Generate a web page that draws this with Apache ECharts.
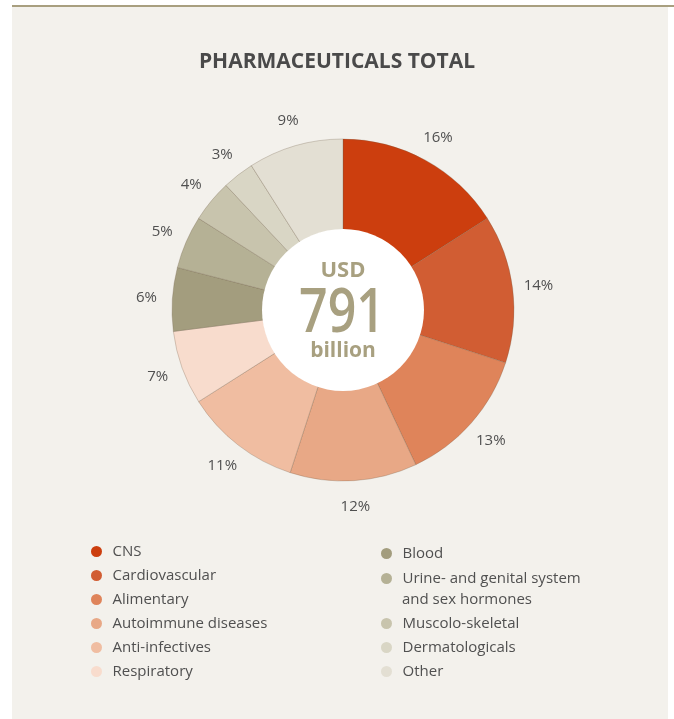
<!DOCTYPE html>
<html>
<head>
<meta charset="utf-8">
<script src="https://cdn.jsdelivr.net/npm/echarts@6/dist/echarts.min.js"></script>
<style>
html,body{margin:0;padding:0;background:#fff;}
#chart{width:674px;height:719px;}
</style>
</head>
<body>
<div id="chart"></div>
<script>
// Data
const categories = ['CNS','Cardiovascular','Alimentary','Autoimmune diseases','Anti-infectives','Respiratory','Blood','Urine- and genital system','Muscolo-skeletal','Dermatologicals','Other'];
const shares = [16,14,13,12,11,7,6,5,4,3,9];
const colors = ['#cc3e0e','#d15d33','#df845a','#e8a886','#f0bda1','#f8dccd','#a39d7e','#b5b195','#c8c4ad','#d9d6c5','#e3dfd3'];
const titleText = 'PHARMACEUTICALS TOTAL';
const totalTop = 'USD', totalValue = '791', totalUnit = 'billion';
const legendLeft = categories.slice(0,6);
const legendRightA = categories.slice(6,8);
const legendRightB = categories.slice(8);
const extraLine = 'and sex hormones';

const FONT = '"Open Sans", "Noto Sans", sans-serif';
const TXT = '#505050';
const GOLD = '#a8a080';

const data = categories.map((c,i)=>({name:c, value:shares[i], itemStyle:{color:colors[i]}}));

const legendCommon = {
  orient:'vertical', icon:'circle', itemWidth:22, itemHeight:11, selectedMode:false, padding:0,
  itemStyle:{borderWidth:0},
  textStyle:{fontFamily:FONT, fontSize:15, color:TXT, lineHeight:21, padding:0}
};

const chart = echarts.init(document.getElementById('chart'));
chart.setOption({
  backgroundColor:'#ffffff',
  animation:false,
  title:{text:titleText, left:'center', top:47, textStyle:{fontFamily:FONT, fontSize:21, fontWeight:'bold', color:'#4a4a4a'}},
  graphic:[
    {type:'rect', z:-10, silent:true, shape:{x:12,y:7,width:656,height:712}, style:{fill:'#f3f1ec'}},
    {type:'rect', z:-10, silent:true, shape:{x:12,y:5,width:662,height:2}, style:{fill:'#a89f7f'}},
    {type:'circle', z:5, silent:true, shape:{cx:343, cy:310, r:81}, style:{fill:'#ffffff'}},
    {type:'text', z:6, silent:true, x:343, y:271, style:{text:totalTop, fontFamily:FONT, fontSize:22, fontWeight:'bold', fill:GOLD, align:'center', verticalAlign:'middle'}},
    {type:'text', z:6, silent:true, x:342, y:315, scaleX:0.82, style:{text:totalValue, fontFamily:FONT, fontSize:61, fontWeight:600, fill:GOLD, align:'center', verticalAlign:'middle'}},
    {type:'text', z:6, silent:true, x:343, y:351, style:{text:totalUnit, fontFamily:FONT, fontSize:21, fontWeight:'bold', fill:GOLD, align:'center', verticalAlign:'middle'}},
    {type:'text', silent:true, x:402, y:600, style:{text:extraLine, fontFamily:FONT, fontSize:15, fill:TXT, align:'left', verticalAlign:'middle'}}
  ],
  legend:[
    Object.assign({}, legendCommon, {data:legendLeft, left:85, top:541, itemGap:3}),
    Object.assign({}, legendCommon, {data:legendRightA, left:375, top:543, itemGap:4}),
    Object.assign({}, legendCommon, {data:legendRightB, left:375, top:613, itemGap:3})
  ].map(l => Object.assign(l, {left: l.left + 6})),
  series:[
    {
      type:'pie', center:[343,310], radius:[80,171], startAngle:90, clockwise:true,
      data:data, silent:true,
      itemStyle:{borderColor:'rgba(110,90,70,0.35)', borderWidth:0.8},
      label:{show:false}, labelLine:{show:false}
    },
    {
      type:'pie', center:[343,310], radius:[182,206], startAngle:90, clockwise:true,
      data:data.map(d=>({name:d.name, value:d.value})), silent:true, legendHoverLink:false,
      itemStyle:{color:'rgba(0,0,0,0)', borderWidth:0},
      label:{show:true, position:'inside', formatter:'{c}%', fontFamily:FONT, fontSize:15, color:TXT},
      labelLine:{show:false}
    }
  ]
});
</script>
</body>
</html>
